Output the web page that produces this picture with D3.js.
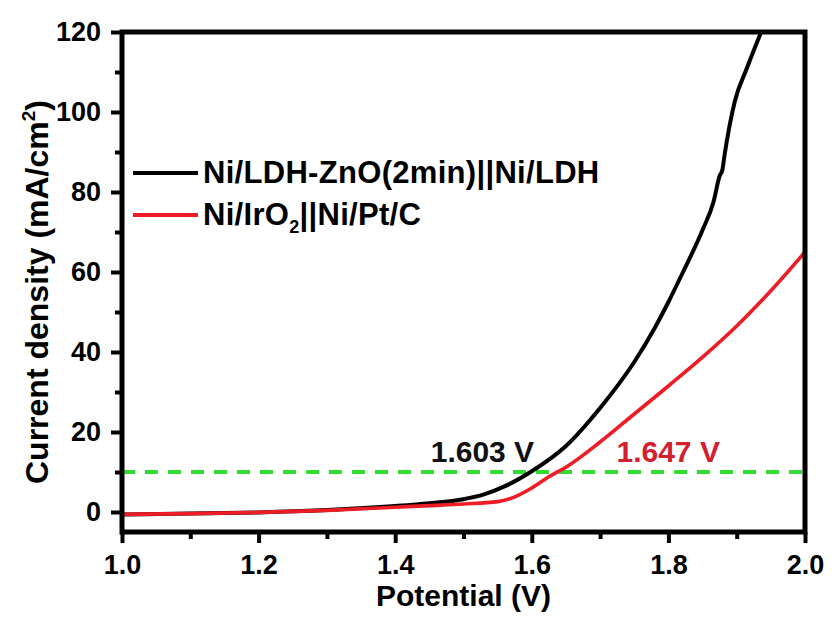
<!DOCTYPE html>
<html>
<head>
<meta charset="utf-8">
<script src="https://cdn.jsdelivr.net/npm/d3@7"></script>
<style>
  body { margin: 0; background: #fff; }
  svg text { font-family: "Liberation Sans", Arial, sans-serif; font-weight: bold; }
</style>
</head>
<body>
<script>
// series
var potentialBlack = [1.00, 1.10, 1.20, 1.30, 1.40, 1.45, 1.50, 1.53, 1.56, 1.60, 1.65, 1.70, 1.75, 1.78, 1.80, 1.82, 1.85, 1.866, 1.875, 1.879, 1.882, 1.897, 1.915, 1.937];
var currentBlack   = [-0.6, -0.4, -0.1, 0.5, 1.5, 2.2, 3.2, 4.4, 6.4, 10.2, 16.5, 26, 37.5, 46, 52.5, 59.5, 70.5, 77.5, 84, 85.5, 89, 102.5, 111, 120.5];

var potentialRed = [1.00, 1.10, 1.20, 1.30, 1.40, 1.45, 1.50, 1.55, 1.575, 1.60, 1.625, 1.65, 1.70, 1.75, 1.80, 1.85, 1.90, 1.95, 2.00];
var currentRed   = [-0.6, -0.4, -0.1, 0.4, 1.2, 1.6, 2.0, 2.6, 3.8, 6.0, 8.8, 11.2, 17.5, 24.5, 31.5, 38.7, 46.5, 55.3, 65];

var seriesNames = ["Ni/LDH-ZnO(2min)||Ni/LDH", "Ni/IrO2||Ni/Pt/C"];
var xTicks = [1.0, 1.2, 1.4, 1.6, 1.8, 2.0];
var yTicks = [0, 20, 40, 60, 80, 100, 120];
var refCurrent = 10;
var onsetLabels = ["1.603 V", "1.647 V"];

var W = 832, H = 617;
var margin = {top: 32, right: 27, bottom: 85, left: 122};

var svg = d3.select("body").append("svg").attr("width", W).attr("height", H);

var x = d3.scaleLinear().domain([1, 2]).range([margin.left, W - margin.right]);
var y = d3.scaleLinear().domain([-5, 120]).range([H - margin.bottom, margin.top]);

svg.append("defs").append("clipPath").attr("id", "plot")
  .append("rect")
  .attr("x", x(1)).attr("y", y(120))
  .attr("width", x(2) - x(1)).attr("height", y(-5) - y(120));

var g = svg.append("g").attr("clip-path", "url(#plot)");

// 10 mA/cm2 reference line
g.append("line")
  .attr("x1", x(1)).attr("x2", x(2))
  .attr("y1", y(refCurrent)).attr("y2", y(refCurrent))
  .attr("stroke", "#2fdc2f").attr("stroke-width", 4)
  .attr("stroke-dasharray", "13,10");

var line = d3.line()
  .x(function(d) { return x(d[0]); })
  .y(function(d) { return y(d[1]); })
  .curve(d3.curveMonotoneX);

g.append("path")
  .datum(d3.zip(potentialBlack, currentBlack))
  .attr("d", line)
  .attr("fill", "none").attr("stroke", "#000").attr("stroke-width", 4);

g.append("path")
  .datum(d3.zip(potentialRed, currentRed))
  .attr("d", line)
  .attr("fill", "none").attr("stroke", "#ee1c25").attr("stroke-width", 3.6);

// axes
svg.append("g").attr("transform", "translate(0," + y(-5) + ")")
  .call(d3.axisBottom(x).tickValues(xTicks).tickSize(11).tickPadding(12).tickFormat(d3.format(".1f")));
svg.append("g").attr("transform", "translate(0," + y(-5) + ")")
  .call(d3.axisBottom(x).tickValues(d3.range(1.1, 2, 0.2)).tickSize(7).tickFormat(""));

svg.append("g").attr("transform", "translate(" + x(1) + ",0)")
  .call(d3.axisLeft(y).tickValues(yTicks).tickSize(11).tickPadding(10));
svg.append("g").attr("transform", "translate(" + x(1) + ",0)")
  .call(d3.axisLeft(y).tickValues(d3.range(10, 120, 20)).tickSize(7).tickFormat(""));

svg.selectAll(".domain").remove();
svg.selectAll(".tick line").attr("stroke", "#000").attr("stroke-width", 4);
svg.selectAll(".tick text").attr("fill", "#000").style("font-size", "27px");

// frame
svg.append("rect")
  .attr("x", x(1)).attr("y", y(120))
  .attr("width", x(2) - x(1)).attr("height", y(-5) - y(120))
  .attr("fill", "none").attr("stroke", "#000").attr("stroke-width", 5);

// axis titles
svg.append("text")
  .attr("x", (x(1) + x(2)) / 2).attr("y", 606)
  .attr("text-anchor", "middle").style("font-size", "30px")
  .text("Potential (V)");

var yt = svg.append("text")
  .attr("transform", "translate(48,292) rotate(-90)")
  .attr("text-anchor", "middle").style("font-size", "32px");
yt.append("tspan").text("Current density (mA/cm");
yt.append("tspan").attr("dy", -13).style("font-size", "19px").text("2");
yt.append("tspan").attr("dy", 13).text(")");

// legend
var legendColors = ["#000", "#ee1c25"];
var lg = svg.append("g");
[0, 1].forEach(function(i) {
  var ly = 173 + i * 42;
  lg.append("line")
    .attr("x1", 133).attr("x2", 198).attr("y1", ly).attr("y2", ly)
    .attr("stroke", legendColors[i]).attr("stroke-width", 4);
  var t = lg.append("text").attr("x", 203).attr("y", ly + 10)
    .style("font-size", "31px").style("letter-spacing", "0.3px");
  if (i == 0) {
    t.text(seriesNames[0]);
  } else {
    t.append("tspan").text("Ni/IrO");
    t.append("tspan").attr("dy", 8).style("font-size", "18px").text("2");
    t.append("tspan").attr("dy", -8).text("||Ni/Pt/C");
  }
});

// onset annotations
svg.append("text").attr("x", x(1.452)).attr("y", y(12.4))
  .style("font-size", "30px").attr("fill", "#111").text(onsetLabels[0]);
svg.append("text").attr("x", x(1.724)).attr("y", y(12.4))
  .style("font-size", "30px").attr("fill", "#d4202e").text(onsetLabels[1]);
</script>
</body>
</html>
